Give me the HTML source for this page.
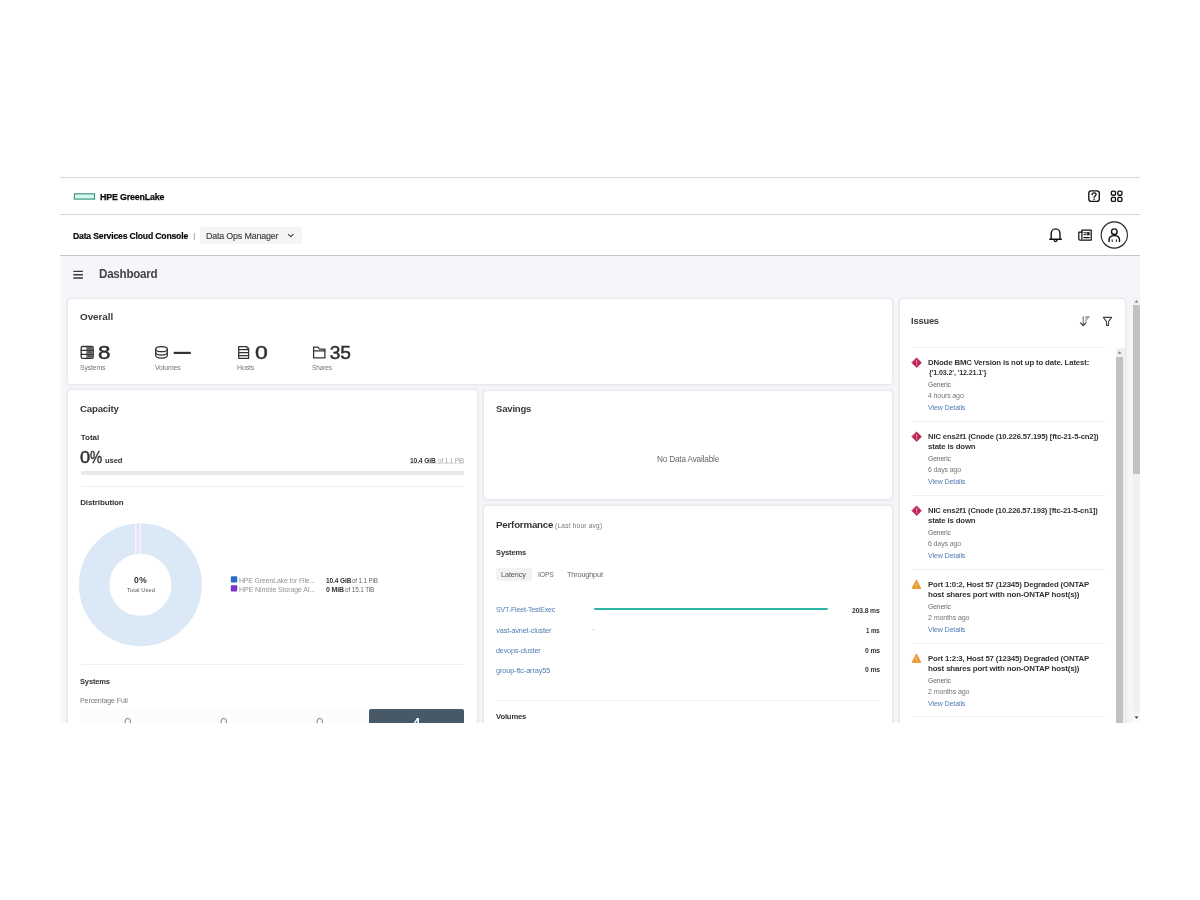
<!DOCTYPE html>
<html lang="en">
<head>
<meta charset="utf-8">
<title>Data Services Cloud Console - Dashboard</title>
<style>
html,body{margin:0;padding:0;background:#fff;}
body{width:1200px;height:900px;position:relative;overflow:hidden;font-family:"Liberation Sans",sans-serif;}
/* The app viewport: everything below is positioned in page pixels and clipped at the screenshot's bottom edge */
#app{position:absolute;left:0;top:0;width:1200px;height:722.7px;overflow:hidden;will-change:transform;}
.o{position:absolute;left:0;top:0;width:0;height:0;}
.abs{position:absolute;}
.t{position:absolute;white-space:pre;line-height:1;transform-origin:0 50%;}
.hline{position:absolute;left:60px;width:1080px;}
.card{position:absolute;background:#fff;border:1px solid #e8e9ed;border-radius:4px;box-sizing:border-box;box-shadow:0 0 2px rgba(205,208,218,.5);}
.div{position:absolute;height:1px;background:#efefef;}
svg.ic{position:absolute;left:0;top:0;overflow:visible;pointer-events:none;}
</style>
</head>
<body>
<div id="app">

<!-- global header -->
<header class="o">
  <div class="hline" style="top:177px;height:1px;background:#dadada"></div>
  <div class="hline" style="top:214px;height:1px;background:#d8d8d8"></div>
  <span class="t" style="left:99.61px;top:192.00px;font-size:9.8px;font-weight:700;color:#0a0a0a;letter-spacing:-0.196px;transform:scaleX(0.9056);-webkit-text-stroke:.25px #0a0a0a;">HPE GreenLake</span>
  <svg class="ic" width="1200" height="900" viewBox="0 0 1200 900" fill="none" stroke-linecap="round" stroke-linejoin="round" aria-hidden="true">
<!-- HPE logo element -->
<rect x="74.400" y="193.800" width="20.100" height="5.300" fill="#d6f8ef" stroke="#479a82" stroke-width="1.25" stroke-linejoin="miter"/>
<!-- help -->
<g stroke="#111" stroke-width="1.35">
<rect x="1088.800" y="190.900" width="10.500" height="10.500" rx="2.400"/>
<path d="M1092.100 194.700c0-1.100.9-1.900 2-1.900s2 .7 2 1.800c0 1.500-2 1.500-2 3" stroke-width="1.3"/>
<path d="M1094.100 199.300v.1" stroke-width="1.4"/>
</g>
<!-- app grid -->
<g stroke="#111" stroke-width="1.35">
<rect x="1111.4" y="191.1" width="4.1" height="4.1" rx="1.2"/>
<rect x="1117.8" y="191.1" width="4.1" height="4.1" rx="1.2"/>
<rect x="1111.4" y="197.3" width="4.1" height="4.1" rx="1.2"/>
<rect x="1117.8" y="197.3" width="4.1" height="4.1" rx="1.2"/>
</g>
</svg>
</header>

<!-- service nav -->
<nav class="o">
  <div class="abs" style="left:200px;top:227px;width:101.5px;height:17px;background:#f4f5f7;border-radius:2px"></div>
  <span class="t" style="left:73.32px;top:231.75px;font-size:9.1px;font-weight:700;color:#0a0a0a;letter-spacing:-0.182px;transform:scaleX(0.9475);-webkit-text-stroke:.2px #0a0a0a;">Data Services Cloud Console</span>
<span class="t" style="left:193.23px;top:232.10px;font-size:7.8px;font-weight:400;color:#999;letter-spacing:0.000px;transform:scaleX(1.2553);">|</span>
<span class="t" style="left:206.47px;top:231.75px;font-size:9.1px;font-weight:400;color:#3d3d3d;letter-spacing:-0.182px;transform:scaleX(0.9772);-webkit-text-stroke:.15px #3d3d3d;">Data Ops Manager</span>
  <svg class="ic" width="1200" height="900" viewBox="0 0 1200 900" fill="none" stroke-linecap="round" stroke-linejoin="round" aria-hidden="true">
<!-- chevron -->
<path d="M288.400 234.300l2.400 2.400 2.400-2.400" stroke="#444" stroke-width="1.15"/>
<!-- bell -->
<g stroke="#111" stroke-width="1.4">
<path d="M1049.800 239.300h11.500M1051.200 239.300v-5.500c0-2.800 1.900-4.900 4.400-4.900s4.400 2.100 4.400 4.900v5.500"/>
<path d="M1054.200 240.400c.2.800.7 1.200 1.400 1.200s1.200-.4 1.400-1.200"/>
</g>
<!-- news -->
<g stroke="#111" stroke-width="1.25">
<path d="M1081.900 230.100h9.300v10h-11.100c-.7 0-1.300-.600-1.300-1.300v-6.600h3.100z"/>
<path d="M1081.900 232.200v6.700"/>
<path d="M1084 232.700h1.700M1084 234.700h1.700M1084 237.600h5.200" stroke-width="1.150"/>
<rect x="1087.300" y="232.500" width="1.900" height="2.400" fill="#111" stroke-width=".8"/>
</g>
<!-- user -->
<circle cx="1114.3" cy="235" r="13.1" stroke="#222" stroke-width="1.1"/>
<g stroke="#111" stroke-width="1.4">
<circle cx="1114.3" cy="231.700" r="2.800"/>
<path d="M1109.100 241.500v-1.700c0-2.600 2.300-4.200 5.200-4.200s5.200 1.600 5.200 4.200v1.700"/>
<path d="M1112.200 239.800v1.700M1116.400 239.800v1.700" stroke-width="1"/>
</g>
</svg>
</nav>

<!-- main -->
<main class="o">
  <div class="abs" style="left:60px;top:255px;width:1080px;height:470px;background:#f5f6fa"></div>
  <div class="abs" style="left:61px;top:256px;width:1px;height:470px;background:#fbfbfd"></div>
  <div class="hline" style="top:254.8px;height:1.2px;background:#c6c6c6"></div>
  <div class="o" id="page-title">
    <span class="t" style="left:98.82px;top:268.00px;font-size:12.4px;font-weight:700;color:#444;letter-spacing:-0.248px;transform:scaleX(0.9355);">Dashboard</span>
    <svg class="ic" width="1200" height="900" viewBox="0 0 1200 900" fill="none" stroke-linecap="round" stroke-linejoin="round" aria-hidden="true">
<!-- hamburger -->
<path d="M73.300 271.400h9.600M73.300 274.700h9.600M73.300 278h9.600" stroke="#3a3a3a" stroke-width="1.35" stroke-linecap="butt"/>
</svg>
  </div>

  <section class="card" id="overall" style="left:67px;top:298px;width:826px;height:87px"><div class="o" style="left:-68px;top:-299px">
    <span class="t" style="left:80.09px;top:312.00px;font-size:9.9px;font-weight:700;color:#3a3a3a;letter-spacing:-0.066px;">Overall</span>
<span class="t" style="left:97.78px;top:342.60px;font-size:19.2px;font-weight:400;color:#2e2e2e;letter-spacing:0.000px;transform:scaleX(1.1663);-webkit-text-stroke:.45px #2e2e2e;">8</span>
<span class="t" style="left:254.85px;top:342.60px;font-size:19.2px;font-weight:400;color:#2e2e2e;letter-spacing:0.000px;transform:scaleX(1.1993);-webkit-text-stroke:.45px #2e2e2e;">0</span>
<span class="t" style="left:329.77px;top:342.60px;font-size:19.2px;font-weight:400;color:#2e2e2e;letter-spacing:-0.306px;-webkit-text-stroke:.45px #2e2e2e;">35</span>
<span class="t" style="left:80.19px;top:363.50px;font-size:7.2px;font-weight:400;color:#777;letter-spacing:-0.144px;transform:scaleX(0.9574);">Systems</span>
<span class="t" style="left:154.97px;top:363.50px;font-size:7.2px;font-weight:400;color:#777;letter-spacing:-0.144px;transform:scaleX(0.9651);">Volumes</span>
<span class="t" style="left:236.92px;top:363.50px;font-size:7.2px;font-weight:400;color:#777;letter-spacing:-0.144px;transform:scaleX(0.9736);">Hosts</span>
<span class="t" style="left:312.20px;top:363.50px;font-size:7.2px;font-weight:400;color:#777;letter-spacing:-0.144px;transform:scaleX(0.9081);">Shares</span>
    <svg class="ic" width="1200" height="900" viewBox="0 0 1200 900" fill="none" stroke-linecap="round" stroke-linejoin="round" aria-hidden="true">
<!-- systems icon -->
<g stroke="#333" stroke-width="1.3">
<rect x="81.200" y="346.500" width="12" height="11.800" rx="1.2"/>
<path d="M81.200 350.400h12M81.200 354.400h12" />
<path d="M87 346.500v11.800" stroke-width="1"/>
</g>
<g fill="#555"><rect x="87.3" y="347.200" width="5.300" height="2.600"/><rect x="87.3" y="351.100" width="5.300" height="2.600"/><rect x="87.3" y="355.100" width="5.300" height="2.600"/></g>
<!-- volumes icon -->
<g stroke="#333" stroke-width="1.25">
<ellipse cx="161.500" cy="349.200" rx="5.800" ry="2.500"/>
<path d="M155.700 349.200v6.400c0 1.400 2.600 2.500 5.800 2.500s5.800-1.100 5.800-2.500v-6.400"/>
<path d="M155.700 352.500c0 1.400 2.600 2.500 5.800 2.500s5.800-1.100 5.800-2.500"/>
</g>
<path d="M173.700 352.900h17.100" stroke="#333" stroke-width="2.200" stroke-linecap="butt"/>
<!-- hosts icon -->
<g stroke="#333" stroke-width="1.25">
<path d="M238.700 346.500h8.200v1.500h1.700v10.300h-9.900z"/>
<path d="M238.700 349.700h9.900M238.700 352.600h9.900M238.700 355.500h9.900"/>
</g>
<!-- shares (folder) icon -->
<g stroke="#333" stroke-width="1.25">
<path d="M313.600 357.900v-10.800h4.200l1.700 2h5.400v8.800z"/>
<path d="M313.600 350.900h11.300"/>
</g>
</svg>
  </div></section>

  <section class="card" id="capacity" style="left:67px;top:389.4px;width:410.6px;height:360px"><div class="o" style="left:-68px;top:-390.4px">
    <div class="abs" style="left:80.5px;top:470.5px;width:383.5px;height:4.2px;background:#e9e9ea;border-radius:2px 0 0 2px"></div>
    <div class="abs" style="left:410.3px;top:463.4px;width:53.7px;height:.8px;background:#e2e2e2"></div>
    <div class="div" style="left:80.5px;top:486px;width:383.5px"></div>
    <div class="div" style="left:80.5px;top:664.3px;width:383.5px"></div>
    <div class="abs" style="left:80.5px;top:709.5px;width:288px;height:20px;background:#fafcfe"></div>
    <div class="abs" style="left:369px;top:709.2px;width:94.8px;height:20px;background:#475866;border-radius:2px 2px 0 0"></div>
    <svg class="ic" width="1200" height="900" viewBox="0 0 1200 900" fill="none" stroke-linecap="round" stroke-linejoin="round" aria-hidden="true">
<!-- donut -->
<circle cx="140.400" cy="584.800" r="46.200" stroke="#dbe8f6" stroke-width="30.400"/>
<path d="M137.900 523.300v31" stroke="#ecdff6" stroke-width="3" stroke-linecap="butt"/>
<path d="M135.900 523.300v31M140.200 523.300v31" stroke="#fff" stroke-width="1" stroke-linecap="butt"/>
<!-- legend -->
<rect x="230.800" y="576.200" width="6.400" height="6.200" rx="1" fill="#2c6cc0"/>
<rect x="230.800" y="585.200" width="6.400" height="6.200" rx="1" fill="#7a31c6"/>
</svg>
    <span class="t" style="left:80.35px;top:404.00px;font-size:9.9px;font-weight:700;color:#3a3a3a;letter-spacing:-0.198px;transform:scaleX(0.9790);">Capacity</span>
<span class="t" style="left:80.66px;top:433.50px;font-size:8px;font-weight:700;color:#333;letter-spacing:0.035px;">Total</span>
<span class="t" style="left:80.19px;top:450.00px;font-size:16px;font-weight:400;color:#2e2e2e;letter-spacing:0.000px;transform:scaleX(1.1363);-webkit-text-stroke:.4px #2e2e2e;">0</span>
<span class="t" style="left:90.11px;top:450.00px;font-size:16px;font-weight:400;color:#2e2e2e;letter-spacing:0.000px;transform:scaleX(0.8516);-webkit-text-stroke:.4px #2e2e2e;">%</span>
<span class="t" style="left:104.52px;top:457.00px;font-size:8px;font-weight:700;color:#333;letter-spacing:-0.160px;transform:scaleX(0.9611);">used</span>
<span class="t" style="left:409.88px;top:457.70px;font-size:6.9px;font-weight:700;color:#333;letter-spacing:-0.138px;transform:scaleX(0.9666);">10.4 GiB</span>
<span class="t" style="left:437.93px;top:457.70px;font-size:6.9px;font-weight:400;color:#a2a2a2;letter-spacing:-0.138px;transform:scaleX(0.9180);">of 1.1 PiB</span>
<span class="t" style="left:80.21px;top:499.00px;font-size:8px;font-weight:700;color:#333;letter-spacing:-0.124px;">Distribution</span>
<span class="t" style="left:134.16px;top:575.80px;font-size:8.4px;font-weight:700;color:#333;letter-spacing:0.504px;transform:scaleX(1.0116);">0%</span>
<span class="t" style="left:127.07px;top:587.70px;font-size:5.6px;font-weight:400;color:#555;letter-spacing:0.150px;">Total Used</span>
<span class="t" style="left:239.43px;top:576.50px;font-size:7.5px;font-weight:400;color:#949494;letter-spacing:-0.150px;transform:scaleX(0.9237);">HPE GreenLake for File...</span>
<span class="t" style="left:239.42px;top:585.50px;font-size:7.5px;font-weight:400;color:#949494;letter-spacing:-0.150px;transform:scaleX(0.9463);">HPE Nimble Storage Al...</span>
<span class="t" style="left:326.08px;top:576.50px;font-size:7.2px;font-weight:700;color:#333;letter-spacing:-0.144px;transform:scaleX(0.9156);">10.4 GiB</span>
<span class="t" style="left:352.34px;top:576.50px;font-size:7.2px;font-weight:400;color:#666;letter-spacing:-0.144px;transform:scaleX(0.8632);">of 1.1 PiB</span>
<span class="t" style="left:326.22px;top:585.50px;font-size:7.2px;font-weight:700;color:#333;letter-spacing:-0.144px;transform:scaleX(0.9731);">0 MiB</span>
<span class="t" style="left:345.03px;top:585.50px;font-size:7.2px;font-weight:400;color:#666;letter-spacing:-0.144px;transform:scaleX(0.8898);">of 15.1 TiB</span>
<span class="t" style="left:80.28px;top:677.70px;font-size:8px;font-weight:700;color:#333;letter-spacing:-0.160px;transform:scaleX(0.9394);">Systems</span>
<span class="t" style="left:79.92px;top:697.30px;font-size:7.4px;font-weight:400;color:#777;letter-spacing:-0.148px;transform:scaleX(0.9611);">Percentage Full</span>
<span class="t" style="left:124.07px;top:717.00px;font-size:12.8px;font-weight:400;color:#8f8f8f;letter-spacing:0.000px;transform:scaleX(1.0612);">0</span>
<span class="t" style="left:220.17px;top:717.00px;font-size:12.8px;font-weight:400;color:#8f8f8f;letter-spacing:0.000px;transform:scaleX(1.0612);">0</span>
<span class="t" style="left:316.27px;top:717.00px;font-size:12.8px;font-weight:400;color:#8f8f8f;letter-spacing:0.000px;transform:scaleX(1.0612);">0</span>
<span class="t" style="left:413.00px;top:717.00px;font-size:12.8px;font-weight:700;color:#fff;letter-spacing:0.000px;transform:scaleX(1.0200);">4</span>
  </div></section>

  <section class="card" id="savings" style="left:483.2px;top:390px;width:409.8px;height:109.7px"><div class="o" style="left:-484.2px;top:-391px">
    <span class="t" style="left:495.97px;top:404.00px;font-size:9.9px;font-weight:700;color:#3a3a3a;letter-spacing:-0.198px;transform:scaleX(0.9654);">Savings</span>
<span class="t" style="left:656.58px;top:455.00px;font-size:8.3px;font-weight:400;color:#666;letter-spacing:-0.166px;transform:scaleX(0.9862);">No Data Available</span>
  </div></section>

  <section class="card" id="performance" style="left:483.2px;top:505.2px;width:409.8px;height:250px"><div class="o" style="left:-484.2px;top:-506.2px">
    <div class="abs" style="left:496.2px;top:568px;width:35.5px;height:13.3px;background:#f1f2f4;border-radius:2px"></div>
    <div class="abs" style="left:593.5px;top:607.6px;width:234px;height:2.2px;background:#2cb4a9;border-radius:1px"></div>
    <div class="abs" style="left:593.3px;top:628.8px;width:1.2px;height:1.2px;background:#2cb4a9;border-radius:1px"></div>
    <div class="div" style="left:496.2px;top:699.8px;width:383.5px"></div>
    <span class="t" style="left:495.60px;top:519.50px;font-size:9.9px;font-weight:700;color:#333;letter-spacing:-0.198px;transform:scaleX(0.9844);">Performance</span>
<span class="t" style="left:555.09px;top:522.50px;font-size:6.6px;font-weight:400;color:#777;letter-spacing:0.194px;">(Last hour avg)</span>
<span class="t" style="left:496.03px;top:548.80px;font-size:8px;font-weight:700;color:#333;letter-spacing:-0.160px;transform:scaleX(0.9474);">Systems</span>
<span class="t" style="left:501.15px;top:570.90px;font-size:7.5px;font-weight:400;color:#555;letter-spacing:-0.150px;transform:scaleX(0.9797);">Latency</span>
<span class="t" style="left:538.12px;top:570.90px;font-size:7.5px;font-weight:400;color:#666;letter-spacing:-0.150px;transform:scaleX(0.9118);">IOPS</span>
<span class="t" style="left:567.09px;top:570.90px;font-size:7.5px;font-weight:400;color:#666;letter-spacing:-0.150px;transform:scaleX(0.9714);">Throughput</span>
<span class="t" style="left:495.93px;top:606.10px;font-size:7.3px;font-weight:400;color:#517db4;letter-spacing:-0.146px;transform:scaleX(0.9556);">SVT-Fleet-TestExec</span>
<span class="t" style="left:496.23px;top:627.00px;font-size:7.3px;font-weight:400;color:#517db4;letter-spacing:-0.146px;">vast-avnet-cluster</span>
<span class="t" style="left:495.95px;top:647.00px;font-size:7.3px;font-weight:400;color:#517db4;letter-spacing:-0.146px;transform:scaleX(0.9806);">devops-cluster</span>
<span class="t" style="left:495.94px;top:667.25px;font-size:7.3px;font-weight:400;color:#517db4;letter-spacing:-0.100px;">group-ftc-array55</span>
<span class="t" style="left:851.96px;top:606.75px;font-size:7.2px;font-weight:700;color:#333;letter-spacing:-0.144px;transform:scaleX(0.9437);">203.8 ms</span>
<span class="t" style="left:866.01px;top:626.80px;font-size:7.2px;font-weight:700;color:#333;letter-spacing:-0.144px;transform:scaleX(0.8547);">1 ms</span>
<span class="t" style="left:864.53px;top:647.00px;font-size:7.2px;font-weight:700;color:#333;letter-spacing:-0.144px;transform:scaleX(0.9494);">0 ms</span>
<span class="t" style="left:864.53px;top:666.30px;font-size:7.2px;font-weight:700;color:#333;letter-spacing:-0.144px;transform:scaleX(0.9494);">0 ms</span>
<span class="t" style="left:496.20px;top:712.90px;font-size:8px;font-weight:700;color:#333;letter-spacing:-0.160px;transform:scaleX(0.9552);">Volumes</span>
  </div></section>

  <aside class="card" id="issues" style="left:899px;top:298px;width:226.6px;height:460px"><div class="o" style="left:-900px;top:-299px">
    <div class="div" style="left:912px;top:347px;width:193px"></div>
    <div class="div" style="left:912px;top:421px;width:193px"></div>
    <div class="div" style="left:912px;top:495px;width:193px"></div>
    <div class="div" style="left:912px;top:569px;width:193px"></div>
    <div class="div" style="left:912px;top:643px;width:193px"></div>
    <div class="div" style="left:912px;top:716.4px;width:193px"></div>
    <span class="t" style="left:911.08px;top:315.70px;font-size:9.9px;font-weight:700;color:#3a3a3a;letter-spacing:-0.198px;transform:scaleX(0.9428);">Issues</span>
<span class="t" style="left:928.23px;top:359.30px;font-size:8px;font-weight:700;color:#333;letter-spacing:-0.160px;transform:scaleX(0.9766);">DNode BMC Version is not up to date. Latest:</span>
<span class="t" style="left:928.63px;top:368.50px;font-size:8px;font-weight:700;color:#333;letter-spacing:-0.160px;transform:scaleX(0.8978);">{&#x27;1.03.2&#x27;, &#x27;12.21.1&#x27;}</span>
<span class="t" style="left:928.41px;top:381.40px;font-size:7.2px;font-weight:400;color:#666;letter-spacing:-0.144px;transform:scaleX(0.9471);">Generic</span>
<span class="t" style="left:928.24px;top:392.25px;font-size:7.2px;font-weight:400;color:#777;letter-spacing:-0.144px;transform:scaleX(0.9803);">4 hours ago</span>
<span class="t" style="left:928.27px;top:403.70px;font-size:7.2px;font-weight:400;color:#517db4;letter-spacing:-0.144px;transform:scaleX(0.9881);">View Details</span>
<span class="t" style="left:928.24px;top:433.30px;font-size:8px;font-weight:700;color:#333;letter-spacing:-0.160px;transform:scaleX(0.9615);">NIC ens2f1 (Cnode (10.226.57.195) [ftc-21-5-cn2])</span>
<span class="t" style="left:928.48px;top:442.50px;font-size:8px;font-weight:700;color:#333;letter-spacing:-0.160px;transform:scaleX(0.9762);">state is down</span>
<span class="t" style="left:928.41px;top:455.40px;font-size:7.2px;font-weight:400;color:#666;letter-spacing:-0.144px;transform:scaleX(0.9471);">Generic</span>
<span class="t" style="left:928.04px;top:466.25px;font-size:7.2px;font-weight:400;color:#777;letter-spacing:-0.144px;transform:scaleX(0.9787);">6 days ago</span>
<span class="t" style="left:928.27px;top:477.70px;font-size:7.2px;font-weight:400;color:#517db4;letter-spacing:-0.144px;transform:scaleX(0.9881);">View Details</span>
<span class="t" style="left:928.24px;top:507.30px;font-size:8px;font-weight:700;color:#333;letter-spacing:-0.160px;transform:scaleX(0.9575);">NIC ens2f1 (Cnode (10.226.57.193) [ftc-21-5-cn1])</span>
<span class="t" style="left:928.48px;top:516.50px;font-size:8px;font-weight:700;color:#333;letter-spacing:-0.160px;transform:scaleX(0.9762);">state is down</span>
<span class="t" style="left:928.41px;top:529.40px;font-size:7.2px;font-weight:400;color:#666;letter-spacing:-0.144px;transform:scaleX(0.9471);">Generic</span>
<span class="t" style="left:928.04px;top:540.25px;font-size:7.2px;font-weight:400;color:#777;letter-spacing:-0.144px;transform:scaleX(0.9787);">6 days ago</span>
<span class="t" style="left:928.27px;top:551.70px;font-size:7.2px;font-weight:400;color:#517db4;letter-spacing:-0.144px;transform:scaleX(0.9881);">View Details</span>
<span class="t" style="left:928.23px;top:581.30px;font-size:8px;font-weight:700;color:#333;letter-spacing:-0.160px;transform:scaleX(0.9788);">Port 1:0:2, Host 57 (12345) Degraded (ONTAP</span>
<span class="t" style="left:928.20px;top:590.50px;font-size:8px;font-weight:700;color:#333;letter-spacing:-0.160px;transform:scaleX(0.9900);">host shares port with non-ONTAP host(s))</span>
<span class="t" style="left:928.41px;top:603.40px;font-size:7.2px;font-weight:400;color:#666;letter-spacing:-0.144px;transform:scaleX(0.9471);">Generic</span>
<span class="t" style="left:928.04px;top:614.25px;font-size:7.2px;font-weight:400;color:#777;letter-spacing:-0.144px;transform:scaleX(0.9876);">2 months ago</span>
<span class="t" style="left:928.27px;top:625.70px;font-size:7.2px;font-weight:400;color:#517db4;letter-spacing:-0.144px;transform:scaleX(0.9881);">View Details</span>
<span class="t" style="left:928.23px;top:655.30px;font-size:8px;font-weight:700;color:#333;letter-spacing:-0.160px;transform:scaleX(0.9788);">Port 1:2:3, Host 57 (12345) Degraded (ONTAP</span>
<span class="t" style="left:928.20px;top:664.50px;font-size:8px;font-weight:700;color:#333;letter-spacing:-0.160px;transform:scaleX(0.9900);">host shares port with non-ONTAP host(s))</span>
<span class="t" style="left:928.41px;top:677.40px;font-size:7.2px;font-weight:400;color:#666;letter-spacing:-0.144px;transform:scaleX(0.9471);">Generic</span>
<span class="t" style="left:928.04px;top:688.25px;font-size:7.2px;font-weight:400;color:#777;letter-spacing:-0.144px;transform:scaleX(0.9876);">2 months ago</span>
<span class="t" style="left:928.27px;top:699.70px;font-size:7.2px;font-weight:400;color:#517db4;letter-spacing:-0.144px;transform:scaleX(0.9881);">View Details</span>
    <!-- issues list scrollbar -->
    <div class="abs" style="left:1115.8px;top:348px;width:9.4px;height:380px;background:#f0f0f0"></div>
    <div class="abs" style="left:1115.8px;top:357px;width:7.2px;height:370px;background:#c1c1c1"></div>
    <svg class="ic" width="1200" height="900" viewBox="0 0 1200 900" fill="none" stroke-linecap="round" stroke-linejoin="round" aria-hidden="true">
<!-- issues: sort + filter -->
<g stroke-width="1.100">
<path d="M1083.200 316.800v8.400" stroke="#666"/>
<path d="M1080.500 322.900l2.700 2.700 2.700-2.700" stroke="#333" stroke-width="1.2"/>
<path d="M1085.300 317.100h4.300M1085.300 319h2.900M1085.300 320.900h1.500" stroke="#777" stroke-width="1.2" stroke-linecap="butt"/>
</g>
<path d="M1103.300 317.400h8.400l-3.200 4.200v3.800h-2v-3.800z" stroke="#444" stroke-width="1.100"/>
<!-- list scrollbar arrow -->
<path d="M1117.600 353.400l1.900-2.100 1.900 2.100z" fill="#777" stroke="none"/>
<path d="M916.7 358.1l4.700 4.700-4.700 4.700-4.700-4.700z" fill="#bb2350" stroke="#bb2350" stroke-width=".7"/>
<path d="M916.7 360.2v3.200" stroke="#f9a3c0" stroke-width="1.100" stroke-linecap="butt"/><circle cx="916.7" cy="364.9" r=".65" fill="#f9a3c0" stroke="none"/>
<path d="M916.7 432.1l4.700 4.700-4.700 4.700-4.700-4.700z" fill="#bb2350" stroke="#bb2350" stroke-width=".7"/>
<path d="M916.7 434.2v3.200" stroke="#f9a3c0" stroke-width="1.100" stroke-linecap="butt"/><circle cx="916.7" cy="438.9" r=".65" fill="#f9a3c0" stroke="none"/>
<path d="M916.7 506.1l4.700 4.700-4.700 4.700-4.700-4.700z" fill="#bb2350" stroke="#bb2350" stroke-width=".7"/>
<path d="M916.7 508.2v3.200" stroke="#f9a3c0" stroke-width="1.100" stroke-linecap="butt"/><circle cx="916.7" cy="512.9" r=".65" fill="#f9a3c0" stroke="none"/>
<path d="M916.600 580.2l4.200 8.200h-8.400z" fill="#e9982f" stroke="#e9982f" stroke-width=".9"/>
<path d="M916.600 583.2v3" stroke="#fcc988" stroke-width="1" stroke-linecap="butt"/><circle cx="916.600" cy="587.4" r=".55" fill="#fcc988" stroke="none"/>
<path d="M916.600 654.2l4.200 8.200h-8.400z" fill="#e9982f" stroke="#e9982f" stroke-width=".9"/>
<path d="M916.600 657.2v3" stroke="#fcc988" stroke-width="1" stroke-linecap="butt"/><circle cx="916.600" cy="661.4" r=".55" fill="#fcc988" stroke="none"/>
</svg>
  </div></aside>

  <!-- page scrollbar -->
  <div class="o" id="page-scrollbar">
    <div class="abs" style="left:1133px;top:298px;width:7px;height:430px;background:linear-gradient(#f1f1f1 0,#f1f1f1 412px,#fbfbfb 420px)"></div>
    <div class="abs" style="left:1133px;top:305.3px;width:7px;height:168.7px;background:#c1c1c1"></div>
    <svg class="ic" width="1200" height="900" viewBox="0 0 1200 900" fill="none" stroke-linecap="round" stroke-linejoin="round" aria-hidden="true">
<!-- page scrollbar arrows -->
<path d="M1134.600 302.400l1.900-2.100 1.900 2.100z" fill="#777" stroke="none"/>
<path d="M1134.500 716.500l2 2.200 2-2.200z" fill="#333" stroke="none"/>
</svg>
  </div>
</main>

</div>
</body>
</html>
